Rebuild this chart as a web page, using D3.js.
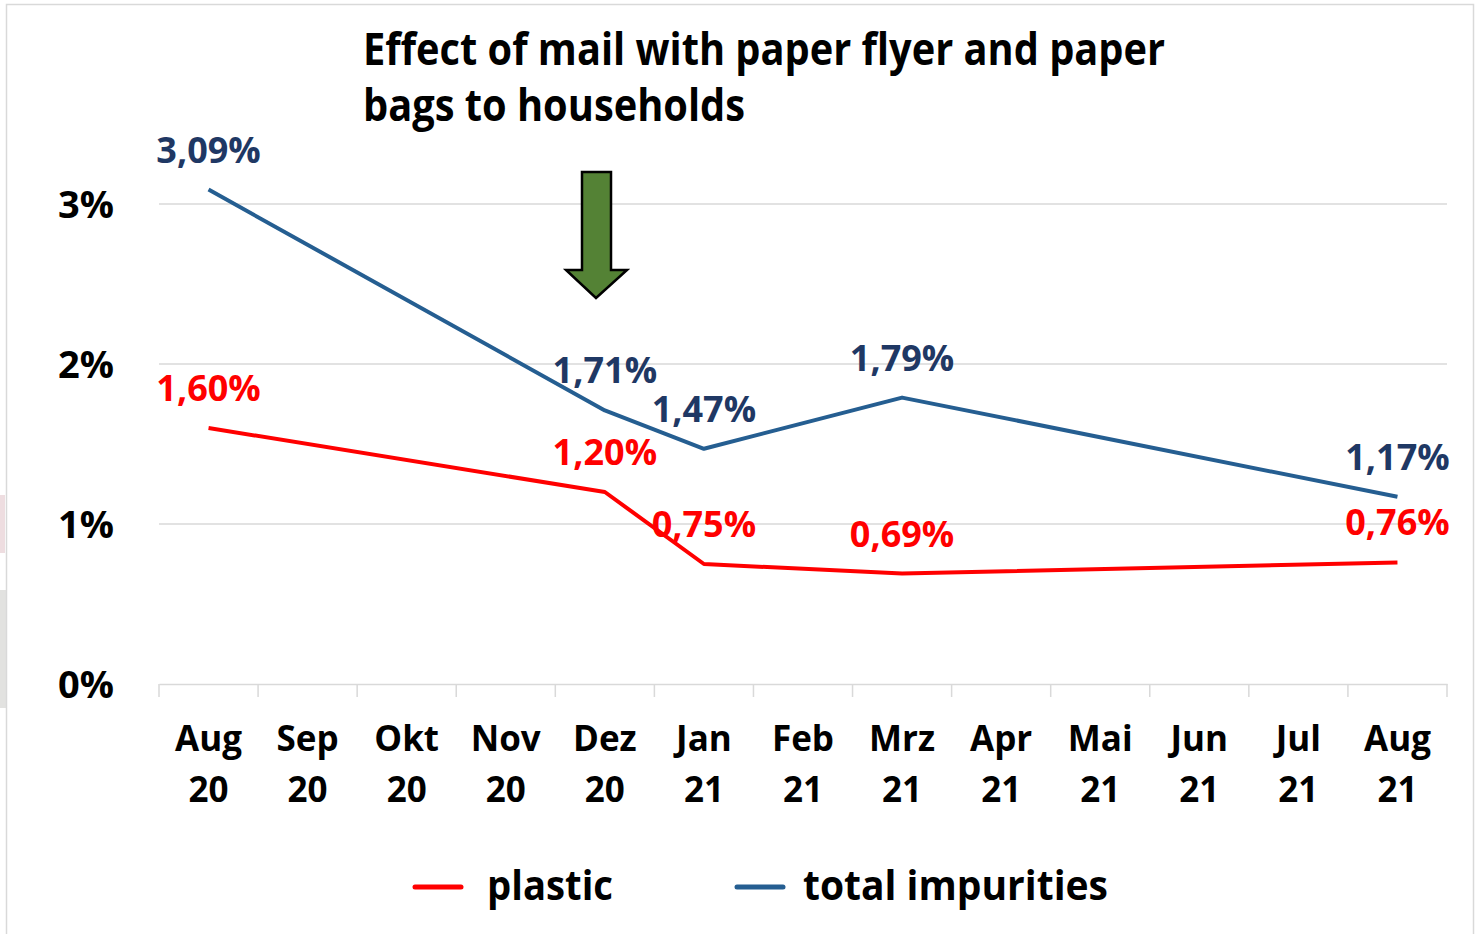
<!DOCTYPE html>
<html>
<head>
<meta charset="utf-8">
<script src="https://cdn.jsdelivr.net/npm/d3@7"></script>
<style>
  body { margin: 0; background: #fff; }
  svg { display: block; font-family: "Open Sans", sans-serif; font-weight: bold; }
</style>
</head>
<body>
<div id="chart"></div>
<script>
// categories on the x axis (two lines each)
const months = ["Aug", "Sep", "Okt", "Nov", "Dez", "Jan", "Feb", "Mrz", "Apr", "Mai", "Jun", "Jul", "Aug"];
const years  = ["20", "20", "20", "20", "20", "21", "21", "21", "21", "21", "21", "21", "21"];
const cats = months.map((m, i) => m + " " + years[i]);

// measured points only (other months have no value)
const pointCats = ["Aug 20", "Dez 20", "Jan 21", "Mrz 21", "Aug 21"];
const totalVals   = [3.09, 1.71, 1.47, 1.79, 1.17];
const plasticVals = [1.60, 1.20, 0.75, 0.69, 0.76];

const yTicks = [0, 1, 2, 3];

const W = 1480, H = 934;
const red = "#ff0000", blueLine = "#255e91", blueText = "#1f3864";

const svg = d3.select("#chart").append("svg")
  .attr("width", W).attr("height", H);

// outer frame + left-edge leftovers
svg.append("rect").attr("x", 0).attr("y", 590).attr("width", 6).attr("height", 118).attr("fill", "#e2e2e0");
svg.append("rect").attr("x", 0).attr("y", 495).attr("width", 5).attr("height", 58).attr("fill", "#eedde0");
svg.append("rect").attr("x", 6.5).attr("y", 4.5).attr("width", 1467).attr("height", 940)
  .attr("fill", "none").attr("stroke", "#d9d9d9").attr("stroke-width", 1.5);

const x = d3.scaleBand().domain(cats).range([159, 1447]).paddingInner(0).paddingOuter(0);
const xc = c => x(c) + x.bandwidth() / 2;
const y = d3.scaleLinear().domain([0, 3]).range([684, 204]);

// gridlines
svg.append("g").selectAll("line").data(yTicks.filter(d => d > 0)).join("line")
  .attr("x1", 159).attr("x2", 1447)
  .attr("y1", d => y(d)).attr("y2", d => y(d))
  .attr("stroke", "#d9d9d9").attr("stroke-width", 1.5);

// x axis
const xAxis = svg.append("g").attr("transform", `translate(0,${y(0)})`)
  .call(d3.axisBottom(x).tickSize(0).tickFormat(""));
xAxis.select(".domain").attr("stroke", "#d9d9d9").attr("stroke-width", 1.5);
svg.append("g").selectAll("line").data(d3.range(cats.length + 1)).join("line")
  .attr("x1", i => 159 + i * x.bandwidth()).attr("x2", i => 159 + i * x.bandwidth())
  .attr("y1", y(0)).attr("y2", y(0) + 13)
  .attr("stroke", "#d9d9d9").attr("stroke-width", 1.5);

const xl = svg.append("g").selectAll("text").data(cats).join("text")
  .attr("x", d => xc(d)).attr("text-anchor", "middle")
  .attr("font-size", 35).attr("fill", "#000");
xl.append("tspan").attr("x", d => xc(d)).attr("y", 751).text((d, i) => months[i]);
xl.append("tspan").attr("x", d => xc(d)).attr("y", 802).text((d, i) => years[i]);

// y axis labels
svg.append("g").selectAll("text").data(yTicks).join("text")
  .attr("x", 114).attr("y", d => y(d) + 14)
  .attr("text-anchor", "end").attr("font-size", 38).attr("fill", "#000")
  .text(d => d + "%");

// lines
const line = d3.line().x(d => xc(d[0])).y(d => y(d[1]));
const totalData = pointCats.map((c, i) => [c, totalVals[i]]);
const plasticData = pointCats.map((c, i) => [c, plasticVals[i]]);

svg.append("path").datum(totalData).attr("d", line)
  .attr("fill", "none").attr("stroke", blueLine).attr("stroke-width", 4).attr("stroke-linejoin", "round");
svg.append("path").datum(plasticData).attr("d", line)
  .attr("fill", "none").attr("stroke", red).attr("stroke-width", 4).attr("stroke-linejoin", "round");

const fmt = v => v.toFixed(2).replace(".", ",") + "%";

svg.append("g").selectAll("text").data(totalData).join("text")
  .attr("x", d => xc(d[0])).attr("y", d => y(d[1]) - 27)
  .attr("text-anchor", "middle").attr("font-size", 36).attr("fill", blueText)
  .text(d => fmt(d[1]));
svg.append("g").selectAll("text").data(plasticData).join("text")
  .attr("x", d => xc(d[0])).attr("y", d => y(d[1]) - 27)
  .attr("text-anchor", "middle").attr("font-size", 36).attr("fill", red)
  .text(d => fmt(d[1]));

// title
svg.append("text").attr("x", 363).attr("y", 65).attr("font-size", 44)
  .attr("textLength", 802).attr("lengthAdjust", "spacingAndGlyphs")
  .text("Effect of mail with paper flyer and paper");
svg.append("text").attr("x", 363).attr("y", 121).attr("font-size", 44)
  .attr("textLength", 382).attr("lengthAdjust", "spacingAndGlyphs")
  .text("bags to households");

// arrow annotation
svg.append("path")
  .attr("d", "M582,172 L611,172 L611,270 L627,270 L596,298 L566,270 L582,270 Z")
  .attr("fill", "#548235").attr("stroke", "#000").attr("stroke-width", 2.5);

// legend
const legend = [
  {name: "plastic", color: red, lx: 415, tx: 487, tw: 126},
  {name: "total impurities", color: blueLine, lx: 737, tx: 803, tw: 305}
];
const lg = svg.append("g").selectAll("g").data(legend).join("g");
lg.append("line")
  .attr("x1", d => d.lx).attr("x2", d => d.lx + 46).attr("y1", 887).attr("y2", 887)
  .attr("stroke", d => d.color).attr("stroke-width", 5).attr("stroke-linecap", "round");
lg.append("text").attr("x", d => d.tx).attr("y", 900).attr("font-size", 42)
  .attr("textLength", d => d.tw).attr("lengthAdjust", "spacingAndGlyphs")
  .text(d => d.name);
</script>
</body>
</html>
